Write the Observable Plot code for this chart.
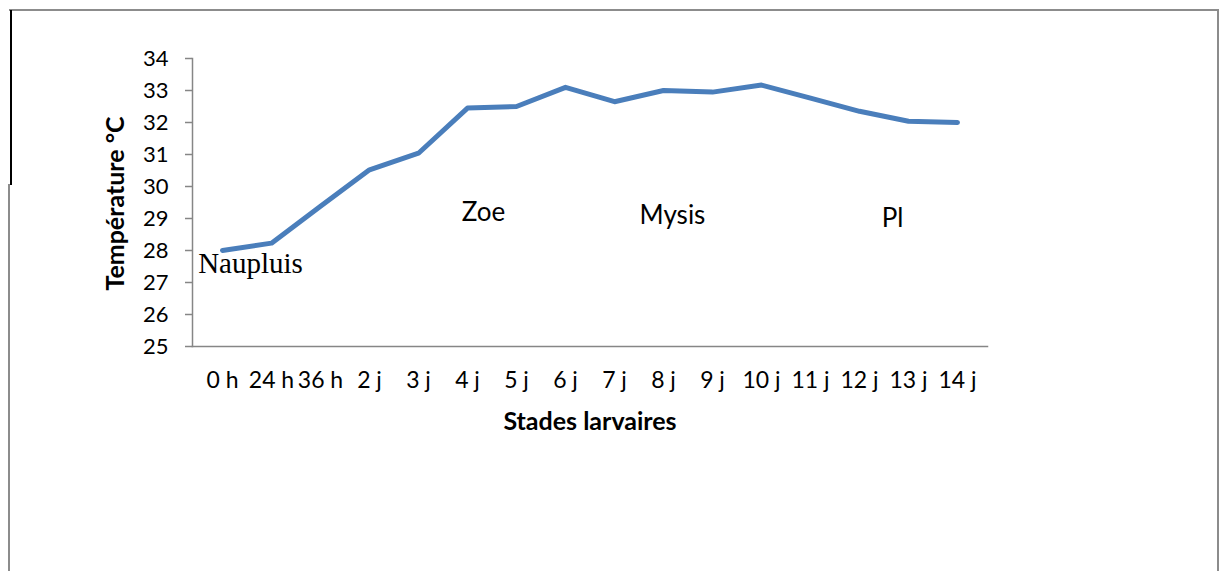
<!DOCTYPE html>
<html>
<head>
<meta charset="utf-8">
<script src="https://cdn.jsdelivr.net/npm/d3@7"></script>
<script src="https://cdn.jsdelivr.net/npm/@observablehq/plot@0.6"></script>
<style>
  html, body { margin: 0; padding: 0; background: #fff; }
  #wrap { position: relative; width: 1222px; height: 571px; overflow: hidden; }
  #wrap svg { position: absolute; left: 0; top: 0; }
  .b { position: absolute; }
</style>
</head>
<body>
<div id="wrap">
  <div class="b" style="left:9px; top:9px; width:1210px; height:2px; background:#8c8c8c;"></div>
  <div class="b" style="left:1217px; top:9px; width:2px; height:570px; background:#8c8c8c;"></div>
  <div class="b" style="left:8px; top:184px; width:2px; height:400px; background:#8c8c8c;"></div>
  <div class="b" style="left:10px; top:10px; width:2px; height:175px; background:#000;"></div>
</div>
<script>
const stages = ["0 h", "24 h", "36 h", "2 j", "3 j", "4 j", "5 j", "6 j", "7 j", "8 j", "9 j", "10 j", "11 j", "12 j", "13 j", "14 j"];
const temperatures = [28.0, 28.23, 29.38, 30.52, 31.04, 32.45, 32.5, 33.1, 32.65, 33.0, 32.95, 33.17, 32.76, 32.35, 32.04, 32.0];
const yTicks = [25, 26, 27, 28, 29, 30, 31, 32, 33, 34];
const phaseNames = ["Naupluis", "Zoe", "Mysis", "Pl"];
const phaseAt = ["24 h", "4 j", "8 j", "13 j"];
const phaseTemp = [27.58, 29.19, 29.09, 29.0];

const data = stages.map((s, i) => ({stage: s, temp: temperatures[i]}));
const phases = phaseNames.map((n, i) => ({name: n, at: phaseAt[i], temp: phaseTemp[i]}));
const phaseDx = [-21, 16, 9, -16];

const sans = "Lato, 'Open Sans', sans-serif";
const axisColor = "#868686";

const chart = Plot.plot({
  width: 1222,
  height: 571,
  marginLeft: 192,
  marginRight: 235,
  marginTop: 58,
  marginBottom: 225,
  style: {fontFamily: sans, fontSize: "23px", color: "#000", background: "transparent", overflow: "visible"},
  x: {type: "point", domain: stages, padding: 0.5},
  y: {domain: [25, 34]},
  marks: [
    Plot.axisY({ticks: yTicks, tickSize: 7, tickPadding: 17, stroke: axisColor, strokeWidth: 1.5, fill: "#000", label: null, fontSize: 22, fontFamily: sans}),
    Plot.axisX({tickSize: 0, tickPadding: 25, fill: "#000", label: null, fontSize: 23, fontFamily: sans}),
    Plot.frame({anchor: "left", stroke: axisColor, strokeWidth: 1.5}),
    Plot.frame({anchor: "bottom", stroke: axisColor, strokeWidth: 1.5}),
    Plot.line(data, {x: "stage", y: "temp", stroke: "#4a7ebb", strokeWidth: 5, strokeLinejoin: "round", strokeLinecap: "round"}),
    Plot.text(phases, {
      x: "at", y: "temp", text: "name",
      filter: (d) => d.name !== "Naupluis",
      fill: "#000", fontSize: 26, fontFamily: sans
    }),
    Plot.text(phases, {
      x: "at", y: "temp", text: "name",
      filter: (d) => d.name === "Naupluis",
      dx: phaseDx[0], fill: "#000", fontSize: 29, fontFamily: "'Liberation Serif', 'Times New Roman', serif"
    }),
    Plot.text(["Température °C"], {frameAnchor: "left", textAnchor: "middle", lineAnchor: "middle", dx: -77, dy: 1, rotate: -90, fill: "#000", fontWeight: "bold", fontSize: 25, fontFamily: sans}),
    Plot.text(["Stades larvaires"], {frameAnchor: "bottom", textAnchor: "middle", lineAnchor: "middle", dy: 75, fill: "#000", fontWeight: "bold", fontSize: 25, fontFamily: sans})
  ]
});
document.getElementById("wrap").appendChild(chart);
// Horizontal offsets for the Zoe / Mysis / Pl annotations
const groups = chart.querySelectorAll("g[aria-label='text']");
if (groups.length) {
  const t = groups[0].querySelectorAll("text");
  t.forEach((el, i) => {
    const cur = el.getAttribute("transform") || "";
    el.setAttribute("transform", cur + ` translate(${phaseDx[i + 1]},0)`);
  });
}
</script>
</body>
</html>
